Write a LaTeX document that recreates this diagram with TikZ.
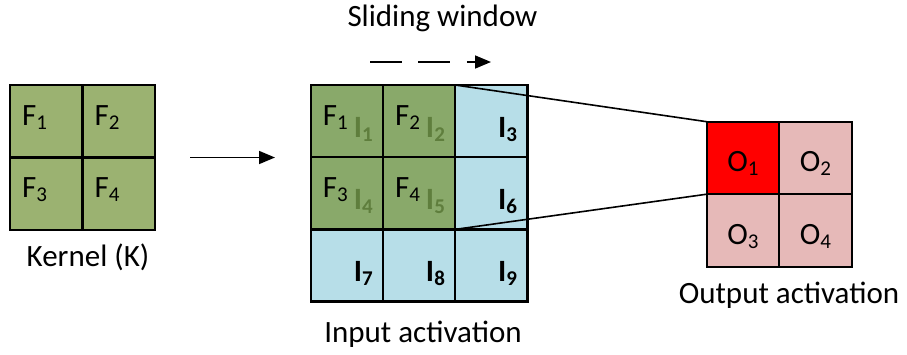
\documentclass[tikz,border=0pt]{standalone}
\usepackage{fontspec}
\setmainfont{Carlito}
\usetikzlibrary{arrows.meta}
\definecolor{kgreen}{HTML}{9BB271}
\definecolor{igreen}{HTML}{89A96A}
\definecolor{itext}{HTML}{5F7E3D}
\definecolor{iblue}{HTML}{B7DEE8}
\definecolor{opink}{HTML}{E6B9B8}
\definecolor{ored}{HTML}{FF0000}
\newcommand\sbs[1]{\raisebox{-4pt}{\fontsize{21}{23}\selectfont #1}}
\begin{document}
\begin{tikzpicture}[x=1pt,y=-1pt,
  cellbase/.style={draw, inner sep=0pt, outer sep=0pt},
  kcell/.style={cellbase, line width=2.8pt, fill=kgreen, minimum width=72.5pt, minimum height=72.5pt},
  icell/.style={cellbase, line width=2.4pt, minimum width=72.2pt, minimum height=72.2pt},
  ocell/.style={cellbase, line width=2.2pt, minimum width=72.5pt, minimum height=72.5pt},
  bigfont/.style={font=\fontsize{31}{35}\selectfont},
  flab/.style={bigfont, anchor=base west, inner sep=0pt},
  ilab/.style={font=\fontsize{31}{35}\selectfont\bfseries, anchor=base east, inner sep=0pt},
  olab/.style={bigfont, anchor=base, inner sep=0pt},
  title/.style={bigfont, anchor=base, inner sep=0pt},
  conn/.style={line width=1.6pt},
  tip/.style={-{Triangle[length=16pt,width=13pt]}}
]
\useasboundingbox (0,0) rectangle (907,354);
% kernel
\node[kcell] (k1) at (46.25,121.25) {};
\node[kcell] (k2) at (118.75,121.25) {};
\node[kcell] (k3) at (46.25,193.75) {};
\node[kcell] (k4) at (118.75,193.75) {};
\foreach \n in {1,2,3,4}{
  \node[flab] (kf\n) at ([xshift=12pt,yshift=-40pt]k\n.north west) {F\sbs{\n}};
}
\node[title] (ktitle) at (88,266.5) {Kernel (K)};
% input
\def\ix{310.7}\def\iy{85}\def\is{72.2}
\foreach \r in {0,1,2}{
  \foreach \c in {0,1,2}{
    \pgfmathtruncatemacro\idx{\r*3+\c+1}
    \pgfmathsetmacro\cx{\ix+\is*(\c+0.5)}
    \pgfmathsetmacro\cy{\iy+\is*(\r+0.5)}
    \node[icell, fill=iblue] (i\idx) at (\cx,\cy) {};
  }
}
\foreach \n in {1,2,4,5}{
  \node[icell, fill=igreen] (g\n) at (i\n) {};
}
\foreach \n/\m in {1/1,2/2,4/3,5/4}{
  \node[flab] (if\n) at ([xshift=12pt,yshift=-40pt]g\n.north west) {F\sbs{\m}};
  \node[ilab, text=itext] (il\n) at ([xshift=-10pt,yshift=-52pt]g\n.north east) {I\sbs{\n}};
}
\foreach \n in {3,6,7,8,9}{
  \node[ilab] (il\n) at ([xshift=-10pt,yshift=-52pt]i\n.north east) {I\sbs{\n}};
}
\node[title] (ititle) at (423,342) {Input activation};
% sliding window
\node[title] (stitle) at (442.5,26) {Sliding window};
\coordinate (s1) at (370,62);
\coordinate (s2) at (491,62);
\draw[conn, dash pattern=on 31.7pt off 16.7pt, tip] (s1) -- (s2);
% arrow kernel -> input
\coordinate (a1) at ([xshift=35pt]k2.south east);
\coordinate (a2) at ([xshift=-35.7pt]i4.north west |- a1);
\draw[conn, tip] (a1) -- (a2);
% output
\node[ocell, fill=ored] (o1) at (742.95,157.95) {};
\node[ocell, fill=opink] (o2) at (815.45,157.95) {};
\node[ocell, fill=opink] (o3) at (742.95,230.45) {};
\node[ocell, fill=opink] (o4) at (815.45,230.45) {};
\foreach \n in {1,2,3,4}{
  \node[olab] (ol\n) at ([yshift=-50pt]o\n.north) {O\sbs{\n}};
}
\node[title] (otitle) at (789,303.5) {Output activation};
% connectors
\draw[conn] (g2.north east) -- (o1.north west);
\draw[conn] (g5.south east) -- (o1.south west);
\end{tikzpicture}
\end{document}
